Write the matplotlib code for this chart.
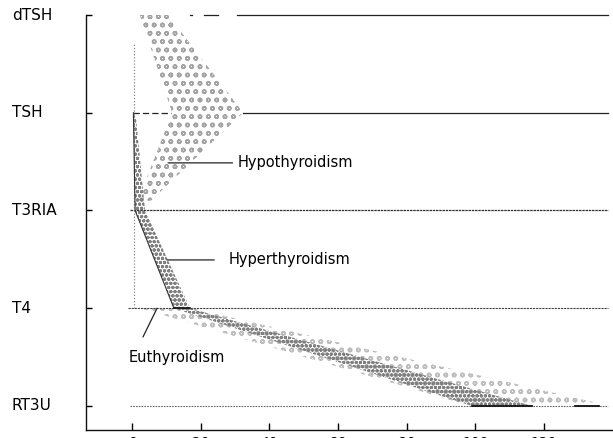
import matplotlib
matplotlib.use("Agg")
import matplotlib.pyplot as plt
import matplotlib.transforms as mtransforms
from matplotlib.patches import Polygon

# Test rows, top to bottom, and their vertical positions
tests = ["dTSH", "TSH", "T3RIA", "T4", "RT3U"]
levels = [4, 3, 2, 1, 0]

# x axis ticks
x_ticks = [0, 20, 40, 60, 80, 100, 120]

# Hypothyroidism band outline (x, level)
hypo_x = [2.3, 10.5, 32.4, 5.5, 1.7, 11.7]
hypo_y = [4, 4, 3, 2.1, 2.1, 3]

# Hyperthyroidism band: (low, high) x at TSH, T3RIA, T4, RT3U
hyper_levels = [3, 2, 1, 0]
hyper_low = [0.4, 0.9, 12.2, 99.0]
hyper_high = [1.0, 3.8, 16.9, 116.5]

# Euthyroidism band: (low, high) x at T4 and RT3U
eu_levels = [1, 0]
eu_low = [2.3, 98.5]
eu_high = [17.5, 139.2]
eu_ref_x = 0.5
eu_ref_span = (1.0, 3.7)

# Row line pieces: (start, end) in x units
dtsh_pieces = [(16.8, 17.4), (21.0, 25.0), (30.6, 138.6)]
tsh_dashed = (0.3, 11.5)
tsh_solid = (32.4, 138.5)
t3ria_span = (-0.6, 138.5)
t4_span = (-1.2, 138.5)
rt3u_span = (-0.6, 138.5)
rt3u_solid = [(99.0, 116.5), (129.0, 136.0)]

plt.rcParams["font.family"] = ["DejaVu Sans"]
plt.rcParams["hatch.linewidth"] = 1.1

fig = plt.figure(figsize=(6.13, 4.38), dpi=100)
ax = fig.add_axes([86 / 613, 8 / 438, 526 / 613, 415 / 438])
ax.set_xlim(-13.4, 139.8)
ax.set_ylim(-0.246, 4)

# Row lines
for a, b in dtsh_pieces:
    ax.plot([a, b], [4, 4], color="#222222", lw=0.9, clip_on=False)
ax.plot(tsh_dashed, [3, 3], color="#222222", lw=0.9, ls=(0, (5, 2.5)))
ax.plot(tsh_solid, [3, 3], color="#222222", lw=0.9)
ax.plot(t3ria_span, [2, 2], color="#333333", lw=0.9, ls=(0, (2, 0.6)))
ax.plot(t4_span, [1, 1], color="#444444", lw=0.8, ls=(0, (2, 0.8)))
ax.plot(rt3u_span, [0, 0], color="#666666", lw=0.8, ls=(0, (1.5, 1)))
for a, b in rt3u_solid:
    ax.plot([a, b], [0, 0], color="#111111", lw=1.3)

# Euthyroidism reference line and band
ax.plot([eu_ref_x, eu_ref_x], eu_ref_span, color="#888888", lw=0.9,
        ls=(0, (1, 1.5)))
eu_pts = list(zip(eu_low, eu_levels)) + list(zip(eu_high, eu_levels))[::-1]
ax.add_patch(Polygon(eu_pts, closed=True, facecolor="none",
                     edgecolor="#bdbdbd", hatch="oo", lw=0))

# Hypothyroidism band
ax.add_patch(Polygon(list(zip(hypo_x, hypo_y)), closed=True,
                     facecolor="none", edgecolor="#a3a3a3", hatch="oo", lw=0))

# Hyperthyroidism band
hyper_pts = list(zip(hyper_low, hyper_levels)) + \
    list(zip(hyper_high, hyper_levels))[::-1]
ax.add_patch(Polygon(hyper_pts, closed=True, facecolor="none",
                     edgecolor="#808080", hatch="oooo", lw=0))
ax.plot(hyper_low[:3], hyper_levels[:3], color="#333333", lw=0.8)
ax.plot([hyper_low[2], hyper_high[2]], [1, 1], color="#111111", lw=1.2)

# Annotations
ax.annotate("Hypothyroidism", xy=(10.5, 2.487), xytext=(30.9, 2.487),
            va="center", ha="left", fontsize=10.5,
            arrowprops=dict(arrowstyle="-", color="#222222", lw=0.9,
                            shrinkA=2, shrinkB=0))
ax.annotate("Hyperthyroidism", xy=(10.2, 1.494), xytext=(28.0, 1.494),
            va="center", ha="left", fontsize=10.5,
            arrowprops=dict(arrowstyle="-", color="#222222", lw=0.9,
                            shrinkA=8, shrinkB=0))
ax.annotate("", xy=(7.3, 1.0), xytext=(3.2, 0.706),
            arrowprops=dict(arrowstyle="-", color="#222222", lw=0.9,
                            shrinkA=0, shrinkB=0))
ax.text(-0.9, 0.491, "Euthyroidism", va="center", ha="left", fontsize=10.5)

# Row labels on the left
trans = mtransforms.blended_transform_factory(fig.transFigure, ax.transData)
for name, lv in zip(tests, levels):
    fig.text(12 / 613, lv, name, transform=trans, va="center", ha="left",
             fontsize=11)

# Axes styling
for side in ("top", "right"):
    ax.spines[side].set_visible(False)
for side in ("left", "bottom"):
    ax.spines[side].set_linewidth(1.0)
    ax.spines[side].set_color("#111111")
ax.set_xticks(x_ticks)
ax.set_xticklabels([str(v) for v in x_ticks])
ax.set_yticks(levels)
ax.set_yticklabels([])
ax.tick_params(axis="x", direction="in", length=5, width=1, pad=4,
               labelsize=10)
ax.tick_params(axis="y", direction="in", length=4, width=1)

fig.savefig("out.png", dpi=100)
